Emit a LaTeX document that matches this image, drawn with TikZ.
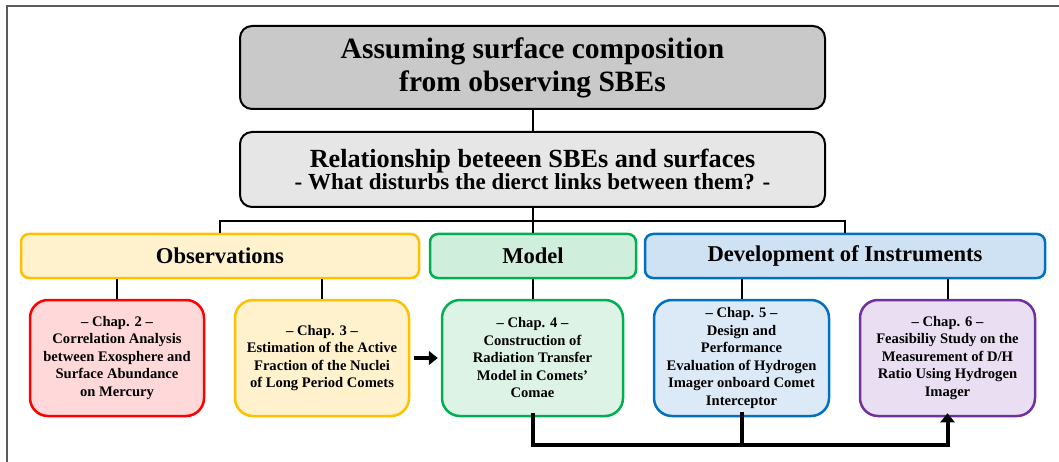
\documentclass[tikz,border=0pt]{standalone}
\usepackage{fontspec}
\setmainfont{Liberation Serif}
\usetikzlibrary{arrows.meta}

\definecolor{topfill}{HTML}{C9C9C9}
\definecolor{relfill}{HTML}{E6E6E6}
\definecolor{obsfill}{HTML}{FFF2CC}
\definecolor{obsline}{HTML}{FFC000}
\definecolor{modfill}{HTML}{CFEEDC}
\definecolor{modline}{HTML}{00B050}
\definecolor{devfill}{HTML}{CFE2F3}
\definecolor{devline}{HTML}{0070C0}
\definecolor{redfill}{HTML}{FFD9D9}
\definecolor{redline}{HTML}{FF0000}
\definecolor{grnfill}{HTML}{DDF3E5}
\definecolor{blufill}{HTML}{DCE9F6}
\definecolor{purfill}{HTML}{EADFF2}
\definecolor{purline}{HTML}{7030A0}
\definecolor{framegray}{HTML}{5A5A5A}

\tikzset{
  headbox/.style={draw=black, line width=2pt, rounded corners=12pt, inner sep=0pt,
    align=center, font=\bfseries},
  catbox/.style={line width=2.5pt, rounded corners=8pt, inner sep=0pt,
    align=center, font=\bfseries\fontsize{22.6}{26}\selectfont,
    minimum height=44pt},
  chapbox/.style={line width=2.5pt, rounded corners=18pt, inner sep=0pt,
    align=center, font=\bfseries\fontsize{14.6}{17.5}\selectfont,
    minimum height=116pt, minimum width=175pt},
  link/.style={line width=2pt, black},
  flow/.style={line width=4pt, black, -{Triangle[length=9pt,width=14pt]}},
  flowplain/.style={line width=4pt, black},
}

\begin{document}
\begin{tikzpicture}[x=1pt,y=-1pt]
\useasboundingbox (0,0) rectangle (1059,462);

% page frame (left and top edges)
\draw[framegray, line width=1.5pt] (7,462) -- (7,6) -- (1059,6);

% headline boxes
\node[headbox, fill=topfill, minimum width=585pt, minimum height=83pt,
      font=\bfseries\fontsize{29.5}{33}\selectfont] (top) at (532.5,67.5)
  {Assuming surface composition\\from observing SBEs};
\node[headbox, fill=relfill, minimum width=585pt, minimum height=75pt] (rel) at (532.5,169.5)
  {{\fontsize{26.2}{29}\selectfont Relationship beteeen SBEs and surfaces}\\
   {\fontsize{23}{29}\selectfont - What disturbs the dierct links between them? -}};

% category boxes
\node[catbox, draw=obsline, fill=obsfill, minimum width=398pt] (obs) at (220,256) {Observations};
\node[catbox, draw=modline, fill=modfill, minimum width=206pt] (mod) at (533,256) {Model};
\node[catbox, draw=devline, fill=devfill, minimum width=400pt] (dev) at (845,256) {Development of Instruments};

% chapter boxes
\node[chapbox, draw=redline, fill=redfill, minimum width=174pt] (c2) at (117,358)
  {-- Chap. 2 --\\Correlation Analysis\\between Exosphere and\\Surface Abundance\\on Mercury};
\node[chapbox, draw=obsline, fill=obsfill, minimum width=174pt] (c3) at (322,358)
  {-- Chap. 3 --\\Estimation of the Active\\Fraction of the Nuclei\\of Long Period Comets};
\node[chapbox, draw=modline, fill=grnfill, minimum width=181pt] (c4) at (532.5,358)
  {-- Chap. 4 --\\Construction of\\Radiation Transfer\\Model in Comets'\\Comae};
\node[chapbox, draw=devline, fill=blufill, minimum width=175pt] (c5) at (741.5,358)
  {-- Chap. 5 --\\Design and\\Performance\\Evaluation of Hydrogen\\Imager onboard Comet\\Interceptor};
\node[chapbox, draw=purline, fill=purfill, minimum width=175pt] (c6) at (947.5,358)
  {-- Chap. 6 --\\Feasibiliy Study on the\\Measurement of D/H\\Ratio Using Hydrogen\\Imager};

% tree connectors
\coordinate (busL) at (220,221);
\coordinate (busR) at (845,221);
\draw[link] (top.south) -- (rel.north);
\draw[link] (rel.south) -- (rel.south |- busL);
\draw[link] (obs.north) -- (obs.north |- busL) -- (busR) -- (dev.north);
\draw[link] (mod.north) -- (mod.north |- busL);

\draw[link] (obs.south -| c2.north) -- (c2.north);
\draw[link] (obs.south -| c3.north) -- (c3.north);
\draw[link] (mod.south -| c4.north) -- (c4.north);
\draw[link] (dev.south -| c5.north) -- (c5.north);
\draw[link] (dev.south -| c6.north) -- (c6.north);

% flow between chapters
\draw[flow, shorten <=4pt, shorten >=3pt] (c3.east) -- (c4.west);
\coordinate (loop) at (532.5,445);
\draw[flow] ([yshift=4pt]c4.south) -- (loop) -| ([yshift=4pt]c6.south);
\draw[flowplain] ([yshift=5pt]c5.south) -- (c5.south |- loop);
\end{tikzpicture}
\end{document}
